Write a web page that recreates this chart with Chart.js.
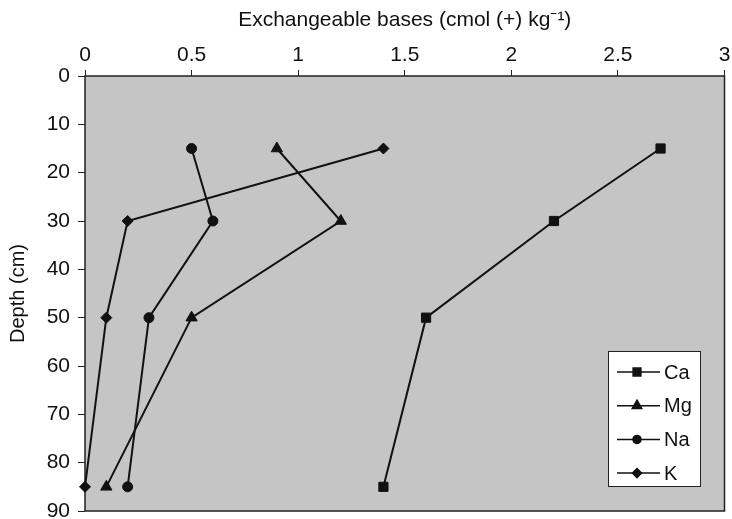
<!DOCTYPE html>
<html>
<head>
<meta charset="utf-8">
<script src="https://cdn.jsdelivr.net/npm/chart.js@4"></script>
<style>
  html, body { margin: 0; padding: 0; background: #fff; }
  #wrap { width: 732px; height: 519px; }
</style>
</head>
<body>
<div id="wrap"><canvas id="myChart" width="732" height="519"></canvas></div>
<script>
// depths (cm) shared by every series
const depths = [15, 30, 50, 85];
// exchangeable bases, cmol(+) kg-1
const caValues = [2.7, 2.2, 1.6, 1.4];
const mgValues = [0.9, 1.2, 0.5, 0.1];
const naValues = [0.5, 0.6, 0.3, 0.2];
const kValues  = [1.4, 0.2, 0.1, 0];
const seriesNames = ['Ca', 'Mg', 'Na', 'K'];
const xTicks = [0, 0.5, 1, 1.5, 2, 2.5, 3];
const yTicks = [0, 10, 20, 30, 40, 50, 60, 70, 80, 90];

const FONT = "'Liberation Sans', Arial, Helvetica, sans-serif";

function toPoints(vals) {
    return vals.map(function (v, i) { return { x: v, y: depths[i] }; });
}

const styles = [
    { pointStyle: 'rect', radius: 6.5 },
    { pointStyle: 'triangle', radius: 6.5 },
    { pointStyle: 'circle', radius: 5 },
    { pointStyle: 'rectRot', radius: 5.5 }
];

const allValues = [caValues, mgValues, naValues, kValues];
const datasets = allValues.map(function (vals, i) {
    return {
        label: seriesNames[i],
        data: toPoints(vals),
        borderColor: '#111',
        backgroundColor: '#111',
        borderWidth: 2,
        pointStyle: styles[i].pointStyle,
        pointRadius: styles[i].radius,
        pointBorderWidth: 1,
        showLine: true,
        clip: false
    };
});

// grey plot area with a thin frame
const plotBg = {
    id: 'plotBg',
    beforeDatasetsDraw(chart) {
        const a = chart.chartArea, ctx = chart.ctx;
        ctx.save();
        ctx.fillStyle = '#c4c5c4';
        ctx.fillRect(a.left, a.top, a.right - a.left, a.bottom - a.top);
        ctx.strokeStyle = '#222';
        ctx.lineWidth = 1.5;
        ctx.strokeRect(a.left, a.top, a.right - a.left, a.bottom - a.top);
        ctx.restore();
    }
};

// boxed legend sitting inside the plot, lower right
const boxLegend = {
    id: 'boxLegend',
    afterDraw(chart) {
        const ctx = chart.ctx;
        const bx = 608, by = 351, bw = 92, bh = 135;
        ctx.save();
        ctx.fillStyle = '#fff';
        ctx.fillRect(bx, by, bw, bh);
        ctx.strokeStyle = '#222';
        ctx.lineWidth = 1;
        ctx.strokeRect(bx + 0.5, by + 0.5, bw, bh);
        ctx.font = '20px ' + FONT;
        ctx.textBaseline = 'middle';
        chart.data.datasets.forEach(function (ds, i) {
            const cy = by + 21 + i * 33.7;
            ctx.strokeStyle = '#111';
            ctx.lineWidth = 1.5;
            ctx.beginPath();
            ctx.moveTo(bx + 9, cy);
            ctx.lineTo(bx + 52, cy);
            ctx.stroke();
            Chart.helpers.drawPoint(ctx, {
                pointStyle: ds.pointStyle,
                radius: ds.pointRadius - 1,
                borderWidth: 1,
                rotation: 0
            }, bx + 29, cy);
            ctx.fillStyle = '#111';
            ctx.fill();
            ctx.fillStyle = '#111';
            ctx.fillText(ds.label, bx + 56, cy + 1);
        });
        ctx.restore();
    }
};

let ctx = document.getElementById('myChart').getContext('2d');
let myChart = new Chart(ctx, {
    type: 'scatter',
    data: { datasets: datasets },
    options: {
        responsive: false,
        animation: false,
        layout: { padding: { left: 0, top: 0, right: 6, bottom: 8 } },
        plugins: { legend: { display: false }, tooltip: { enabled: false } },
        scales: {
            x: {
                type: 'linear',
                position: 'top',
                min: 0, max: 3,
                afterBuildTicks: function (s) { s.ticks = xTicks.map(function (v) { return { value: v }; }); },
                afterFit: function (s) { s.height = 76; s.paddingLeft = 0; s.paddingRight = 0; },
                ticks: { color: '#111', font: { family: FONT, size: 21 }, padding: 2, maxRotation: 0,
                         callback: function (v) { return String(v); } },
                grid: { drawOnChartArea: false, drawTicks: true, tickLength: 6, color: '#222', lineWidth: 1 },
                border: { display: false },
                title: { display: true, text: 'Exchangeable bases (cmol (+) kg\u207B\u00B9)', color: '#111',
                         font: { family: FONT, size: 21 }, padding: { top: 8, bottom: 4 } }
            },
            y: {
                type: 'linear',
                reverse: true,
                min: 0, max: 90,
                afterBuildTicks: function (s) { s.ticks = yTicks.map(function (v) { return { value: v }; }); },
                afterFit: function (s) { s.width = 85; s.paddingTop = 0; s.paddingBottom = 0; },
                ticks: { color: '#111', font: { family: FONT, size: 21 }, padding: 8,
                         callback: function (v) { return String(v); } },
                grid: { drawOnChartArea: false, drawTicks: true, tickLength: 7, color: '#222', lineWidth: 1 },
                border: { display: false },
                title: { display: true, text: 'Depth (cm)', color: '#111',
                         font: { family: FONT, size: 20 }, padding: { top: 6, bottom: 4 } }
            }
        }
    },
    plugins: [plotBg, boxLegend]
});
</script>
</body>
</html>
